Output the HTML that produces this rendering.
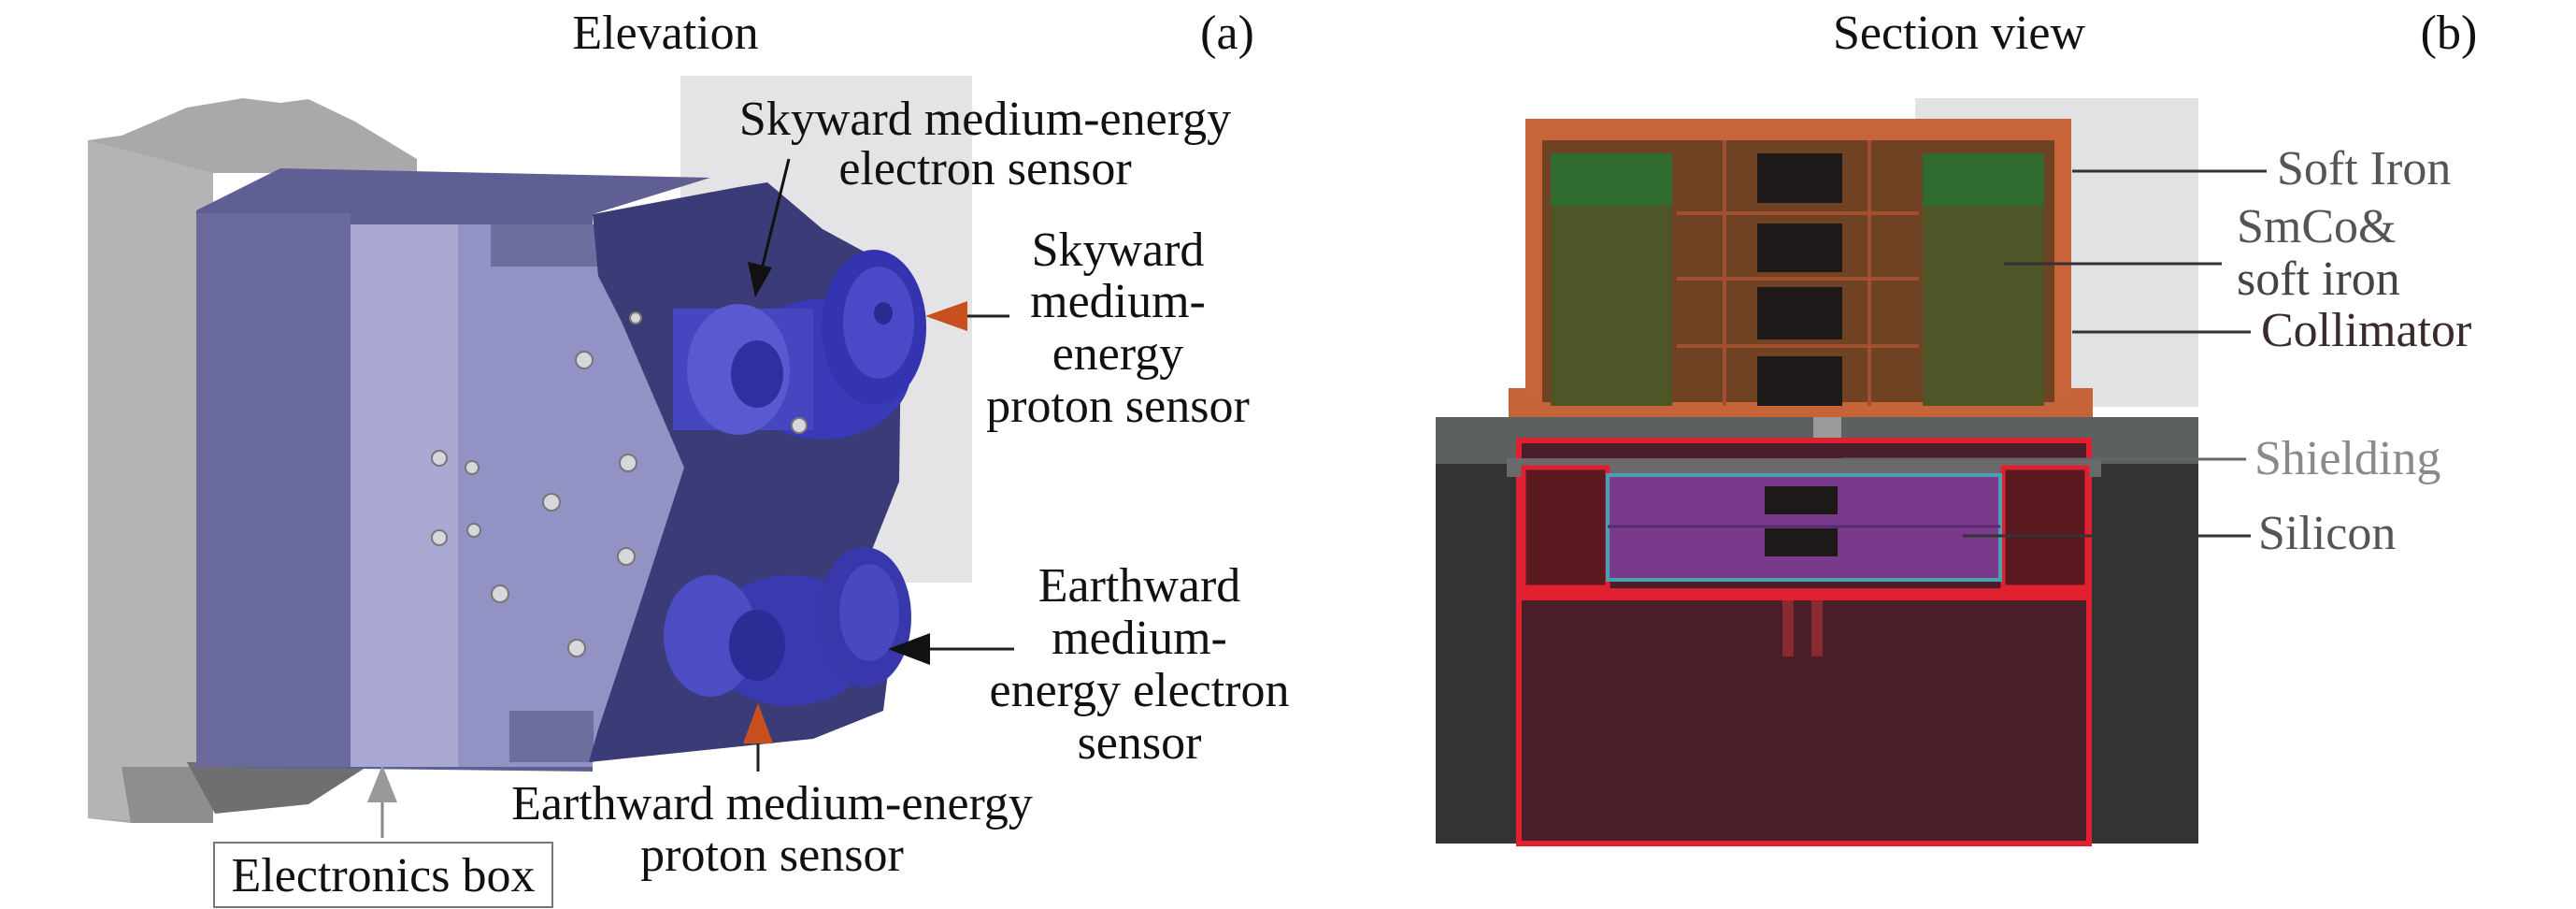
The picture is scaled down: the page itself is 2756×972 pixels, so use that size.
<!DOCTYPE html>
<html><head><meta charset="utf-8"><style>
html,body{margin:0;padding:0;background:#fff;}
svg{display:block;}
text{font-family:"Liberation Serif",serif;font-size:52px;fill:#111;}
</style></head><body>
<svg width="2756" height="972" viewBox="0 0 2756 972" xmlns="http://www.w3.org/2000/svg">
<!-- LEFT PANEL -->
<rect x="728" y="81" width="312" height="542" fill="#e4e4e6"/>
<!-- gray plate -->
<polygon points="94,150 130,145 200,115 260,105 300,110 330,106 380,130 446,170 446,185 228,185 228,880 140,880 94,875" fill="#a9a9ab"/>
<polygon points="94,150 228,185 228,880 94,875" fill="#b4b4b6"/>
<polygon points="130,820 228,820 228,880 140,880" fill="#8e8e90"/>
<polygon points="200,815 400,815 330,860 230,870" fill="#6f6f72"/>
<!-- purple box -->
<polygon points="210,225 300,180 760,190 634,229 634,825 210,820" fill="#5f5f94"/>
<rect x="210" y="228" width="165" height="592" fill="#6a6a9c"/>
<rect x="375" y="240" width="115" height="580" fill="#a8a8d2"/>
<rect x="490" y="240" width="144" height="580" fill="#9292c4"/>
<polygon points="630,240 740,240 740,500 630,815" fill="#9292c4"/>
<rect x="525" y="240" width="120" height="45" fill="#6d6d9e"/>
<rect x="545" y="760" width="90" height="55" fill="#6d6d9e"/>
<!-- dark front hex face -->
<polygon points="634,229 790,200 821,195 880,245 965,291 962,515 930,595 960,640 945,760 870,790 630,815 640,780 680,660 732,500 665,344 640,295" fill="#3b3b78"/>
<!-- upper sensors -->
<ellipse cx="880" cy="395" rx="95" ry="75" fill="#3a3ab8"/>
<rect x="720" y="330" width="150" height="130" fill="#4646c0"/>
<ellipse cx="790" cy="395" rx="55" ry="70" fill="#5a5ad0"/>
<ellipse cx="810" cy="400" rx="28" ry="36" fill="#3030a0"/>
<ellipse cx="935" cy="350" rx="56" ry="83" fill="#3434b0"/>
<ellipse cx="940" cy="345" rx="38" ry="60" fill="#4a4ac8"/>
<ellipse cx="945" cy="335" rx="10" ry="12" fill="#2a2a90"/>
<!-- lower sensors -->
<ellipse cx="845" cy="685" rx="90" ry="70" fill="#3a3ab0"/>
<ellipse cx="760" cy="680" rx="50" ry="65" fill="#4c4cc4"/>
<ellipse cx="810" cy="690" rx="30" ry="38" fill="#2c2c96"/>
<ellipse cx="925" cy="660" rx="50" ry="75" fill="#3838ac"/>
<ellipse cx="930" cy="655" rx="32" ry="52" fill="#4848c0"/>
<!-- screws -->
<g fill="#d8d8dc" stroke="#777" stroke-width="2">
<circle cx="625" cy="385" r="9"/><circle cx="470" cy="490" r="8"/><circle cx="505" cy="500" r="7"/>
<circle cx="672" cy="495" r="9"/><circle cx="590" cy="537" r="9"/><circle cx="470" cy="575" r="8"/>
<circle cx="507" cy="567" r="7"/><circle cx="670" cy="595" r="9"/><circle cx="535" cy="635" r="9"/>
<circle cx="617" cy="693" r="9"/><circle cx="680" cy="340" r="6"/><circle cx="855" cy="455" r="8"/>
</g>
<!-- arrows left -->
<line x1="844" y1="170" x2="812" y2="300" stroke="#111" stroke-width="3"/>
<polygon points="800,280 826,286 808,318" fill="#111"/>
<line x1="1080" y1="338" x2="1015" y2="338" stroke="#222" stroke-width="3"/>
<polygon points="990,338 1035,322 1035,354" fill="#c8501e"/>
<line x1="1085" y1="694" x2="975" y2="694" stroke="#222" stroke-width="3"/>
<polygon points="950,694 995,677 995,711" fill="#111"/>
<line x1="811" y1="780" x2="811" y2="825" stroke="#222" stroke-width="3"/>
<polygon points="811,752 795,795 827,795" fill="#c8501e"/>
<line x1="409" y1="850" x2="409" y2="896" stroke="#888" stroke-width="3"/>
<polygon points="409,818 393,858 425,858" fill="#999"/>
<rect x="229" y="901" width="362" height="69" fill="#fff" stroke="#777" stroke-width="2"/>
<!-- left text -->
<text x="712" y="52" text-anchor="middle">Elevation</text>
<text x="1313" y="52" text-anchor="middle">(a)</text>
<text x="1054" y="144" text-anchor="middle">Skyward medium-energy</text>
<text x="1054" y="197" text-anchor="middle">electron sensor</text>
<text x="1196" y="284" text-anchor="middle">Skyward</text>
<text x="1196" y="339" text-anchor="middle">medium-</text>
<text x="1196" y="395" text-anchor="middle">energy</text>
<text x="1196" y="451" text-anchor="middle">proton sensor</text>
<text x="1219" y="643" text-anchor="middle">Earthward</text>
<text x="1219" y="699" text-anchor="middle">medium-</text>
<text x="1219" y="755" text-anchor="middle">energy electron</text>
<text x="1219" y="811" text-anchor="middle">sensor</text>
<text x="826" y="876" text-anchor="middle">Earthward medium-energy</text>
<text x="826" y="931" text-anchor="middle">proton sensor</text>
<text x="410" y="953" text-anchor="middle">Electronics box</text>

<!-- RIGHT PANEL -->
<rect x="2049" y="105" width="303" height="330" fill="#e2e2e4"/>
<rect x="1536" y="446" width="816" height="456" fill="#333335"/>
<rect x="1536" y="446" width="816" height="50" fill="#5c6060"/>
<rect x="1614" y="415" width="625" height="31" fill="#c46438"/>
<rect x="1632" y="127" width="584" height="300" fill="#c8643a"/>
<rect x="1650" y="150" width="548" height="280" fill="#6e4222"/>
<rect x="1659" y="164" width="130" height="56" fill="#2f6a2e"/>
<rect x="1659" y="220" width="130" height="214" fill="#4e5628"/>
<rect x="2057" y="164" width="130" height="56" fill="#2f6a2e"/>
<rect x="2057" y="220" width="130" height="214" fill="#4e5628"/>
<g fill="#1e1a1a">
<rect x="1880" y="164" width="91" height="53"/><rect x="1880" y="239" width="91" height="52"/>
<rect x="1880" y="307" width="91" height="56"/><rect x="1880" y="381" width="91" height="53"/>
</g>
<g stroke="#a05030" stroke-width="4" fill="none">
<line x1="1845" y1="150" x2="1845" y2="434"/><line x1="2000" y1="150" x2="2000" y2="434"/>
<line x1="1794" y1="228" x2="2053" y2="228"/><line x1="1794" y1="298" x2="2053" y2="298"/><line x1="1794" y1="370" x2="2053" y2="370"/>
</g>
<rect x="1940" y="446" width="30" height="25" fill="#9a9a98"/>
<!-- red frame -->
<rect x="1625" y="471" width="610" height="431" fill="#4a1e28"/>
<rect x="1625" y="471" width="610" height="431" fill="none" stroke="#e02030" stroke-width="6"/>
<rect x="1612" y="490" width="636" height="20" fill="#6a6a6c"/>
<rect x="1625" y="629" width="610" height="13" fill="#e02030"/>
<rect x="1630" y="500" width="90" height="128" fill="#5a1a20" stroke="#e02030" stroke-width="5"/>
<rect x="2143" y="500" width="90" height="128" fill="#5a1a20" stroke="#e02030" stroke-width="5"/>
<rect x="1720" y="508" width="420" height="112" fill="#7a3a8c" stroke="#4aa0b0" stroke-width="4"/>
<line x1="1720" y1="563" x2="2140" y2="563" stroke="#5a2a70" stroke-width="3"/>
<rect x="1888" y="520" width="78" height="30" fill="#1e1a1a"/>
<rect x="1888" y="565" width="78" height="30" fill="#1e1a1a"/>
<rect x="1907" y="642" width="12" height="60" fill="#8a2a30"/><rect x="1938" y="642" width="12" height="60" fill="#8a2a30"/>
<!-- leaders -->
<g stroke="#333" stroke-width="3">
<line x1="2217" y1="183" x2="2425" y2="183"/>
<line x1="2144" y1="282" x2="2377" y2="282"/>
<line x1="2217" y1="355" x2="2408" y2="355"/>
<line x1="1971" y1="491" x2="2403" y2="491" stroke="#666"/>
<line x1="2100" y1="573" x2="2408" y2="573"/>
</g>
<text x="2096" y="52" text-anchor="middle">Section view</text>
<text x="2620" y="52" text-anchor="middle">(b)</text>
<text x="2436" y="197" style="fill:#555">Soft Iron</text>
<text x="2393" y="259" style="fill:#555">SmCo&amp;</text>
<text x="2393" y="315" style="fill:#444">soft iron</text>
<text x="2419" y="370" style="fill:#3a2a2a">Collimator</text>
<text x="2412" y="507" style="fill:#8a8a8a">Shielding</text>
<text x="2416" y="587" style="fill:#555">Silicon</text>
</svg>
</body></html>
